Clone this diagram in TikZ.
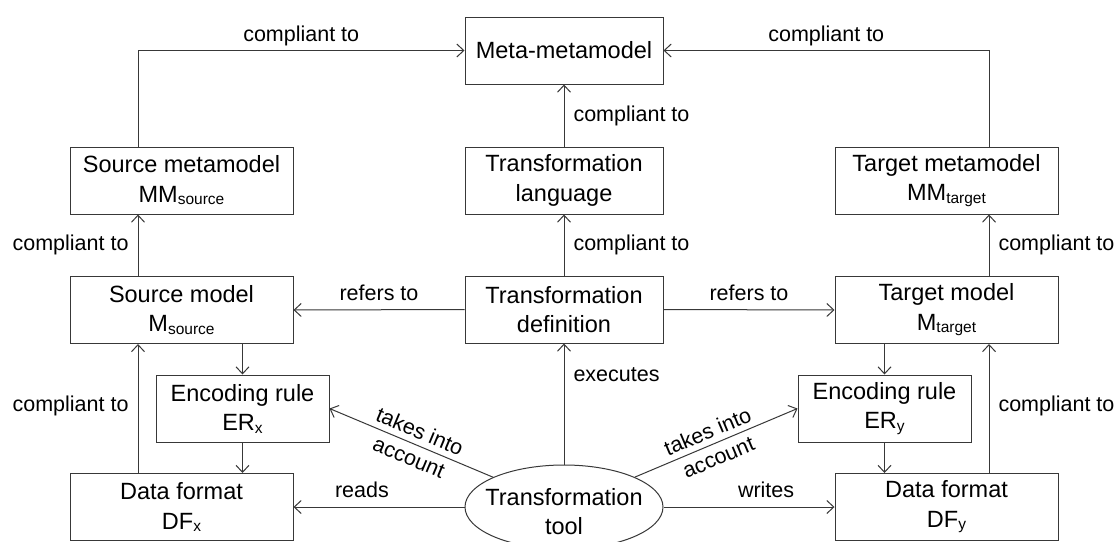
\documentclass[tikz,border=0pt]{standalone}
\usepackage{fontspec}
\setmainfont{Liberation Sans}
\usetikzlibrary{arrows.meta,shapes.geometric}

\newcommand\boxfont{\fontsize{23.5}{29.5}\selectfont}
\newcommand\lblfont{\fontsize{21.5}{28}\selectfont}
\newcommand\subtxt[1]{\raisebox{-2.5pt}{\fontsize{15.5}{15.5}\selectfont #1}}

\definecolor{linecol}{gray}{0.22}

\tikzset{
  box/.style={draw=linecol, line width=1pt, inner sep=0pt, align=center,
    font=\boxfont, minimum height=67},
  widebox/.style={box, minimum width=223},
  midbox/.style={box, minimum width=198},
  rulebox/.style={box, minimum width=173},
  toolshape/.style={draw=linecol, line width=1pt, ellipse, inner sep=0pt,
    minimum width=198, minimum height=84},
  arr/.style={draw=linecol, line width=1pt,
    -{Straight Barb[length=7pt,width=13pt]}},
  lbl/.style={font=\lblfont, text height=16pt, text depth=5pt,
    inner xsep=9pt, inner ysep=4pt},
  slbl/.style={font=\lblfont, align=center, sloped, inner sep=0pt},
}

\begin{document}
\begin{tikzpicture}[x=1pt, y=-1pt]
  \path[fill=white, use as bounding box] (0,0) rectangle (1118,541);

  % middle column
  \node[midbox] (meta) at (564,50.5) {Meta-metamodel};
  \node[midbox] (lang) at (564,180.5) {Transformation\\language};
  \node[midbox] (def)  at (564,309.5) {Transformation\\definition};
  \node[toolshape] (tool) at (564,507) {};
  \node[font=\boxfont, align=center, inner sep=0pt] (tooltxt) at (564,511.5)
    {Transformation\\tool};

  % source side
  \node[widebox] (srcmm) at (181.5,180.5) {Source metamodel\\MM\subtxt{source}};
  \node[widebox] (srcm)  at (181.5,310) {Source model\\M\subtxt{source}};
  \node[rulebox] (erx)   at (242.5,408.5) {Encoding rule\\ER\subtxt{x}};
  \node[widebox] (dfx)   at (181.5,507) {Data format\\DF\subtxt{x}};

  % target side
  \node[widebox] (tgtmm) at (946.5,180.5) {Target metamodel\\MM\subtxt{target}};
  \node[widebox] (tgtm)  at (946.5,310) {Target model\\M\subtxt{target}};
  \node[rulebox] (ery)   at (884.5,408.5) {Encoding rule\\ER\subtxt{y}};
  \node[widebox] (dfy)   at (946.5,507) {Data format\\DF\subtxt{y}};

  % vertical rails for the outer conformance arrows
  \coordinate (L) at (138,0);
  \coordinate (R) at (989,0);

  % conformance to the meta-metamodel
  \draw[arr] (srcmm.north -| L) |- (meta.west)
    node[lbl, pos=0.75, above] {compliant to};
  \draw[arr] (tgtmm.north -| R) |- (meta.east)
    node[lbl, pos=0.75, above] {compliant to};
  \draw[arr] (lang) -- (meta) node[lbl, midway, right] {compliant to};
  \draw[arr] (def) -- (lang) node[lbl, midway, right] {compliant to};

  % models and metamodels
  \draw[arr] (srcm.north -| L) -- (srcmm.south -| L)
    node[lbl, midway, left] {compliant to};
  \draw[arr] (tgtm.north -| R) -- (tgtmm.south -| R)
    node[lbl, midway, right] {compliant to};

  % definition refers to the models
  \draw[arr] (def.west) -- (srcm.east) node[lbl, midway, above] {refers to};
  \draw[arr] (def.east) -- (tgtm.east -| tgtm.west) node[lbl, midway, above] {refers to};

  % encoding rules
  \draw[arr] (srcm.south -| erx) -- (erx.north);
  \draw[arr] (erx.south) -- (dfx.north -| erx);
  \draw[arr] (tgtm.south -| ery) -- (ery.north);
  \draw[arr] (ery.south) -- (dfy.north -| ery);

  % data formats conform to models
  \draw[arr] (dfx.north -| L) -- (srcm.south -| L)
    node[lbl, pos=0.52, left] {compliant to};
  \draw[arr] (dfy.north -| R) -- (tgtm.south -| R)
    node[lbl, pos=0.52, right] {compliant to};

  % the transformation tool
  \draw[arr] (tool.north) -- (def.south) node[lbl, pos=0.73, right] {executes};
  \draw[arr] (tool.west) -- (dfx.east) node[lbl, pos=0.6, above] {reads};
  \draw[arr] (tool.east) -- (dfy.west) node[lbl, pos=0.6, above] {writes};
  \draw[arr] (tool) -- (erx.east) node[slbl, pos=0.48] {takes into\\account};
  \draw[arr] (tool) -- (ery.west) node[slbl, pos=0.48] {takes into\\account};
\end{tikzpicture}
\end{document}
